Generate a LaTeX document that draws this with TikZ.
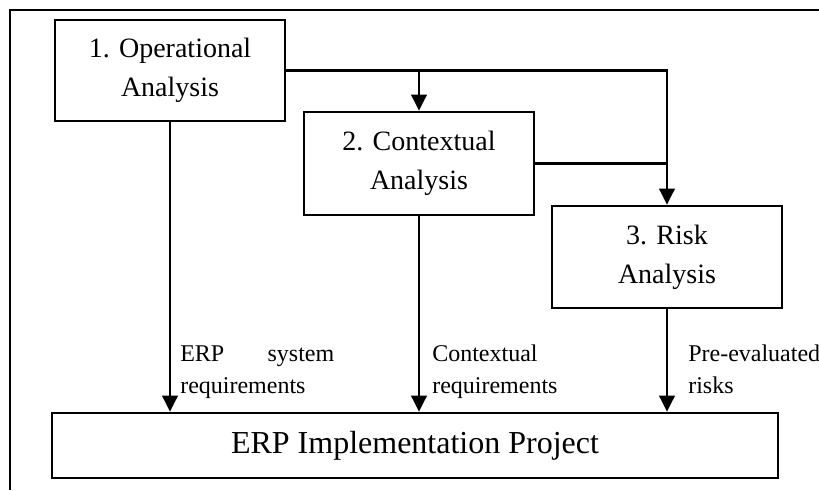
\documentclass[tikz,border=0pt]{standalone}
\usepackage{fontspec}
\setmainfont{Liberation Serif}
\usetikzlibrary{arrows.meta}
\begin{document}
\begin{tikzpicture}[x=0.75pt,y=-0.75pt,
  stagebox/.style={draw,line width=1.9pt,minimum width=172.5pt,inner sep=0pt,align=center,
    font=\fontsize{21}{29}\selectfont},
  arr/.style={line width=1.9pt,-{Triangle[length=12pt,width=11.5pt]}},
  conn/.style={line width=1.9pt},
  lbl/.style={anchor=base west,inner sep=0pt,font=\fontsize{18}{24}\selectfont}]
\useasboundingbox (0,0) rectangle (819,490);
\draw[line width=1.9pt] (10,490) -- (10,10) -- (819,10);
\node[stagebox,minimum height=75.75pt] (op) at (170,70.5) {1. Operational\\Analysis};
\node[stagebox,minimum height=77.25pt] (ctx) at (419,163.5) {2. Contextual\\Analysis};
\node[stagebox,minimum height=76.5pt] (risk) at (667,257) {3. Risk\\Analysis};
\node[draw,line width=1.9pt,minimum width=544.5pt,minimum height=48.75pt,inner sep=0pt,
  font=\fontsize{24}{28}\selectfont] (erp) at (415,445.5) {ERP Implementation Project};
\draw[arr] (op.east) -| (risk.north);
\draw[arr] (ctx.north |- op.east) -- (ctx.north);
\draw[conn] (ctx.east) -- (ctx.east -| risk.north);
\draw[arr] (op.south) -- (op.south |- erp.north);
\draw[arr] (ctx.south) -- (ctx.south |- erp.north);
\draw[arr] (risk.south) -- (risk.south |- erp.north);
\node[lbl] (l1) at (180,361) {\parbox[t]{115.5pt}{\makebox[115.5pt][s]{ERP system}\\requirements}};
\node[lbl] (l2) at (432,361) {\parbox[t]{100pt}{Contextual\\requirements}};
\node[lbl] (l3) at (688,361) {\parbox[t]{100pt}{Pre-evaluated\\risks}};
\end{tikzpicture}
\end{document}
